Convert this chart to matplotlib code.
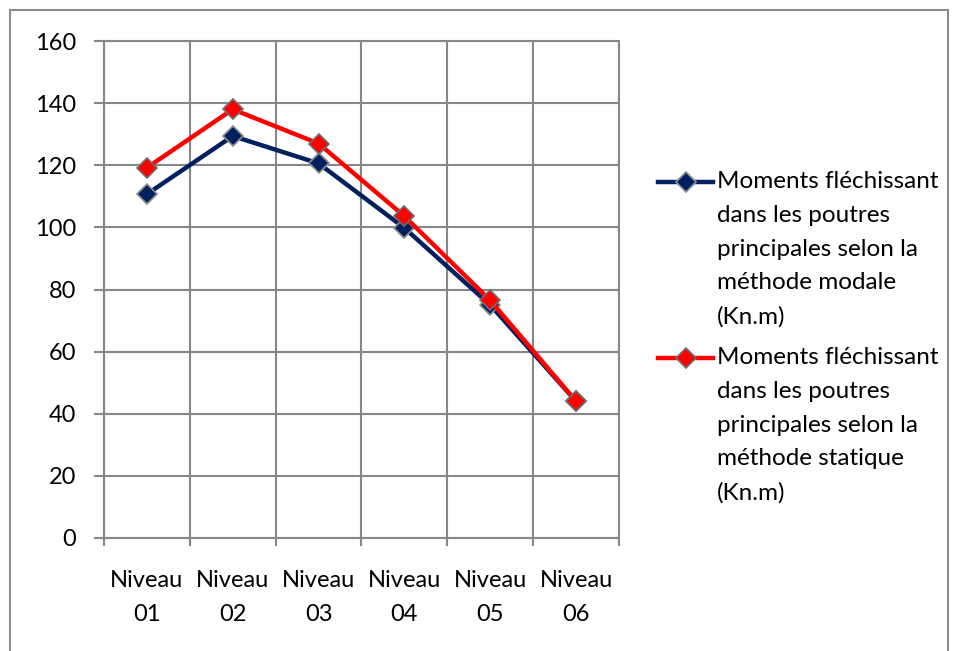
import matplotlib.pyplot as plt
from matplotlib.lines import Line2D

# Data
niveaux = ['Niveau\n01', 'Niveau\n02', 'Niveau\n03', 'Niveau\n04', 'Niveau\n05', 'Niveau\n06']
moment_modal = [110.7, 129.4, 120.6, 99.8, 75.0, 44.0]
moment_statique = [119.2, 138.0, 127.0, 103.6, 76.5, 44.0]
labels = ['Moments fléchissant\ndans les poutres\nprincipales selon la\nméthode modale\n(Kn.m)',
          'Moments fléchissant\ndans les poutres\nprincipales selon la\nméthode statique\n(Kn.m)']
colors = ['#002060', '#ff0000']
edge_colors = ['#8c8c8c', '#6e6e6e']

plt.rcParams['font.family'] = ['Lato', 'DejaVu Sans']
grid_col = '#878787'
W, H = 957, 651

fig = plt.figure(figsize=(W / 100, H / 100), dpi=100)
ax = fig.add_axes([104 / W, 1 - 538 / H, 515 / W, 497 / H])

x = list(range(1, len(niveaux) + 1))
series = [moment_modal, moment_statique]
for i, vals in enumerate(series):
    ax.plot(x, vals, color=colors[i], lw=3.2, marker='D', ms=10,
            mfc=colors[i], mec=edge_colors[i], mew=1.2, zorder=3 + i)

ax.set_xlim(0.5, len(niveaux) + 0.5)
ax.set_ylim(0, 160)
ax.set_yticks(range(0, 161, 20))
ax.set_xticks(x)
ax.set_xticklabels(niveaux, fontsize=17, linespacing=1.75)
ax.set_xticks([i + 0.5 for i in range(0, len(niveaux) + 1)], minor=True)

ax.tick_params(axis='y', labelsize=17, length=7, width=1.5, color=grid_col, pad=13)
ax.tick_params(axis='x', which='major', length=0, pad=23)
ax.tick_params(axis='x', which='minor', length=6, width=1.5, color=grid_col)

ax.grid(axis='y', which='major', color=grid_col, lw=1.5)
ax.grid(axis='x', which='minor', color=grid_col, lw=1.5)
for s in ax.spines.values():
    s.set_color(grid_col)
    s.set_linewidth(1.5)

# legend: handle sits on the first line of each wrapped label
for i, (lab, y0) in enumerate(zip(labels, [182, 358])):
    yf = 1 - y0 / H
    fig.add_artist(Line2D([658 / W, 713 / W], [yf, yf], color=colors[i], lw=3.2,
                          transform=fig.transFigure))
    fig.add_artist(Line2D([686 / W], [yf], marker='D', ms=10, mfc=colors[i],
                          mec=edge_colors[i], mew=1.2, transform=fig.transFigure))
    fig.text(717 / W, 1 - (y0 - 11) / H, lab, fontsize=17.5, va='top', ha='left',
             linespacing=1.75)

# outer chart frame
fr = dict(color='#8c8c8c', lw=1.5, transform=fig.transFigure)
fig.add_artist(Line2D([10 / W, 10 / W], [0, 1 - 10 / H], **fr))
fig.add_artist(Line2D([10 / W, 948 / W], [1 - 10 / H, 1 - 10 / H], **fr))
fig.add_artist(Line2D([948 / W, 948 / W], [0, 1 - 10 / H], **fr))

fig.savefig('out.png', dpi=100)
